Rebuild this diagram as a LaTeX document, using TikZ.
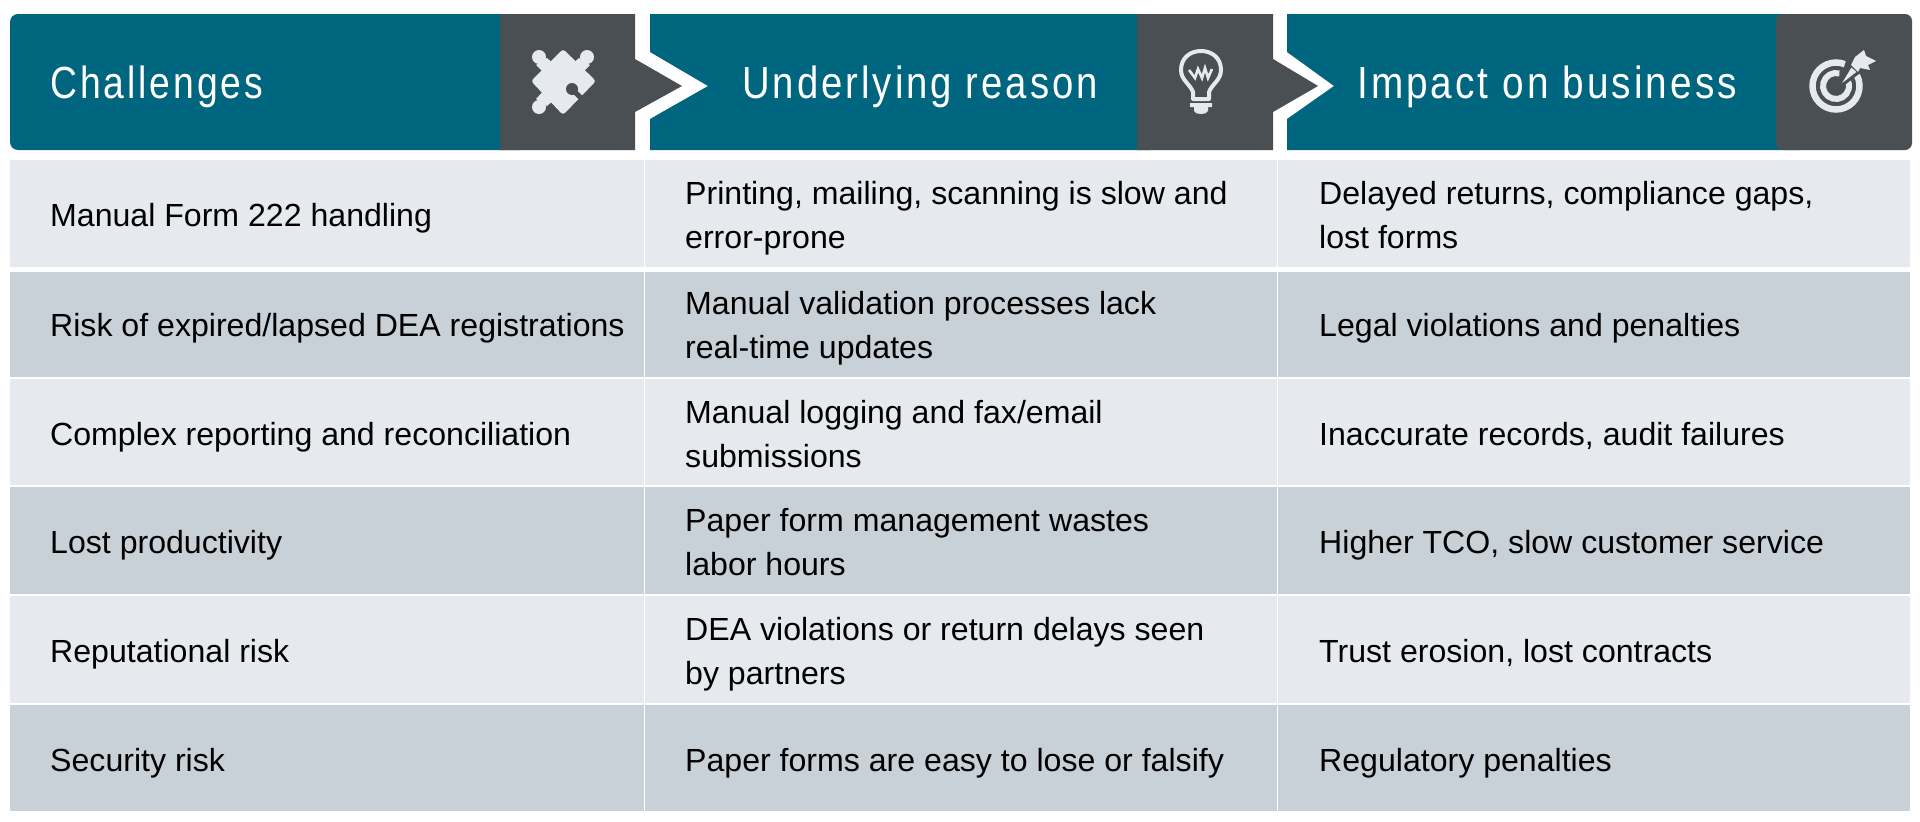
\documentclass[tikz,border=0pt]{standalone}
\usepackage{fontspec}
\usepackage{graphicx}
\setmainfont{Liberation Sans}
\newfontfamily\headfont[FakeStretch=0.85,LetterSpace=6.7]{Liberation Sans}
\newfontfamily\bodyfont[FakeStretch=1.003]{Liberation Sans}
\definecolor{teal}{HTML}{00657F}
\definecolor{slate}{HTML}{4A4F54}
\definecolor{rowlight}{HTML}{E6E9ED}
\definecolor{rowdark}{HTML}{C9D1D8}
\definecolor{iconfill}{HTML}{E6E9ED}
\tikzset{
  band/.style={fill=teal,draw=none},
  iconbox/.style={fill=slate,draw=none},
  head/.style={anchor=base west,inner sep=0pt,text=white,font=\headfont\fontsize{45}{50}\selectfont},
  cellbox/.style={anchor=north west,inner sep=0pt,outer sep=0pt,draw=none},
  light/.style={cellbox,fill=rowlight},
  dark/.style={cellbox,fill=rowdark},
  celltext/.style={anchor=base west,inner sep=0pt,text=black,align=left,font=\bodyfont\fontsize{32}{44}\selectfont},
  iconfillst/.style={fill=iconfill,draw=none},
  iconline/.style={draw=iconfill,fill=none},
}
\newcommand\rowcells[4]{% name, style, top, height
  \node[#2,minimum width=633.5pt,minimum height=#4pt] (#1a) at (10,#3) {};
  \node[#2,minimum width=632pt,minimum height=#4pt] (#1b) at (644.7,#3) {};
  \node[#2,minimum width=632pt,minimum height=#4pt] (#1c) at (1278,#3) {};
}
\begin{document}
\begin{tikzpicture}[x=1pt,y=-1pt]
\useasboundingbox (0,0) rectangle (1920,822);
\fill[white] (0,0) rectangle (1920,822);
% header bands
\path[band] (18,14) -- (520,14) -- (520,150) -- (18,150) arc[start angle=90,end angle=180,radius=8] -- (10,22) arc[start angle=180,end angle=270,radius=8] -- cycle;
\path[band] (650,14) -- (1150,14) -- (1150,150) -- (650,150) -- (650,119) -- (708,86) -- (650,52) -- cycle;
\path[band] (1287,14) -- (1800,14) -- (1800,150) -- (1287,150) -- (1287,119) -- (1334,86) -- (1287,52) -- cycle;
% grey icon blocks
\path[iconbox] (500,14) -- (635,14) -- (635,59) -- (682,86) -- (635,112) -- (635,150) -- (500,150) -- cycle;
\path[iconbox] (1137,14) -- (1273,14) -- (1273,59) -- (1318,86) -- (1273,112) -- (1273,150) -- (1137,150) -- cycle;
\path[iconbox,rounded corners=7pt] (1776,14) -- (1912,14) -- (1912,150) -- (1776,150) -- cycle;
% header text
\node[head] (h1) at (50,98) {\scalebox{0.975}[1]{Challenges}};
\node[head] (h2) at (742,98) {Underlying reason};
\node[head] (h3) at (1357,98) {\scalebox{1.013}[1]{Impact on business}};
% puzzle icon
\begin{scope}
  \path[iconfillst,rounded corners=3pt] (563,49) -- (531,81) -- (563,115) -- (596,81) -- cycle;
  \path[iconfillst] (547,58) -- (556,66) -- (546,75) -- (536,65) -- cycle;
  \path[iconfillst] (579,58) -- (570,66) -- (580,75) -- (590,65) -- cycle;
  \path[iconfillst] (547,106) -- (556,98) -- (546,88) -- (536,99) -- cycle;
  \fill[iconfill] (539,57) circle[radius=7];
  \fill[iconfill] (587,57) circle[radius=7];
  \fill[iconfill] (539,107) circle[radius=7];
  \fill[slate] (572,89) circle[radius=6];
  \draw[slate,line width=5pt] (572,89) -- (584,101);
\end{scope}
% bulb icon
\begin{scope}
  \draw[iconline,line width=4pt,line join=round] (1193,99) -- (1193,92) .. controls (1190,84) and (1181,80) .. (1181,70) .. controls (1181,58) and (1190,51) .. (1201,51) .. controls (1212,51) and (1221,58) .. (1221,70) .. controls (1221,80) and (1212,84) .. (1209,92) -- (1209,99) -- cycle;
  \draw[iconline,line width=2.6pt,line join=miter] (1189,70) -- (1195,78) -- (1198,69) -- (1202,78) -- (1205,68) -- (1208,78) -- (1212,69);
  \path[iconfillst] (1190,103) -- (1212,103) -- (1212,107) -- (1208,107) -- (1208,111) .. controls (1207,115) and (1195,115) .. (1194,111) -- (1194,107) -- (1190,107) -- cycle;
\end{scope}
% target icon
\begin{scope}
  \draw[iconline,line width=6.5pt] (1836,86) ++(-68:23.5) arc[start angle=-68,end angle=-388,radius=23.5];
  \draw[iconline,line width=6pt] (1836,86) ++(-75:13) arc[start angle=-75,end angle=-395,radius=13];
  \draw[slate,line width=3pt,fill=iconfill,line join=round] (1836,90) -- (1851,65) -- (1859,72) -- cycle;
  \path[iconfillst] (1851,65) -- (1855,57) -- (1864,50) -- (1866,56) -- (1876,61) -- (1868,65) -- (1870,70) -- (1860,68) -- (1858,72) -- cycle;
\end{scope}
% table
\rowcells{r1}{light}{160}{107}
\rowcells{r2}{dark}{272}{105}
\rowcells{r3}{light}{379}{106}
\rowcells{r4}{dark}{487}{107}
\rowcells{r5}{light}{596}{107}
\rowcells{r6}{dark}{705}{106}
% table text (base of the last line)
\node[celltext] (t1a) at (50,226.5) {Manual Form 222 handling};
\node[celltext] (t1b) at (685,248) {Printing, mailing, scanning is slow and\\error-prone};
\node[celltext] (t1c) at (1319,248) {Delayed returns, compliance gaps,\\lost forms};
\node[celltext] (t2a) at (50,336) {Risk of expired/lapsed DEA registrations};
\node[celltext] (t2b) at (685,358) {Manual validation processes lack\\real-time updates};
\node[celltext] (t2c) at (1319,336) {Legal violations and penalties};
\node[celltext] (t3a) at (50,445) {Complex reporting and reconciliation};
\node[celltext] (t3b) at (685,467) {Manual logging and fax/email\\submissions};
\node[celltext] (t3c) at (1319,445) {Inaccurate records, audit failures};
\node[celltext] (t4a) at (50,553) {Lost productivity};
\node[celltext] (t4b) at (685,575) {Paper form management wastes\\labor hours};
\node[celltext] (t4c) at (1319,553) {Higher TCO, slow customer service};
\node[celltext] (t5a) at (50,662) {Reputational risk};
\node[celltext] (t5b) at (685,684) {DEA violations or return delays seen\\by partners};
\node[celltext] (t5c) at (1319,662) {Trust erosion, lost contracts};
\node[celltext] (t6a) at (50,771) {Security risk};
\node[celltext] (t6b) at (685,771) {Paper forms are easy to lose or falsify};
\node[celltext] (t6c) at (1319,771) {Regulatory penalties};
\end{tikzpicture}
\end{document}
